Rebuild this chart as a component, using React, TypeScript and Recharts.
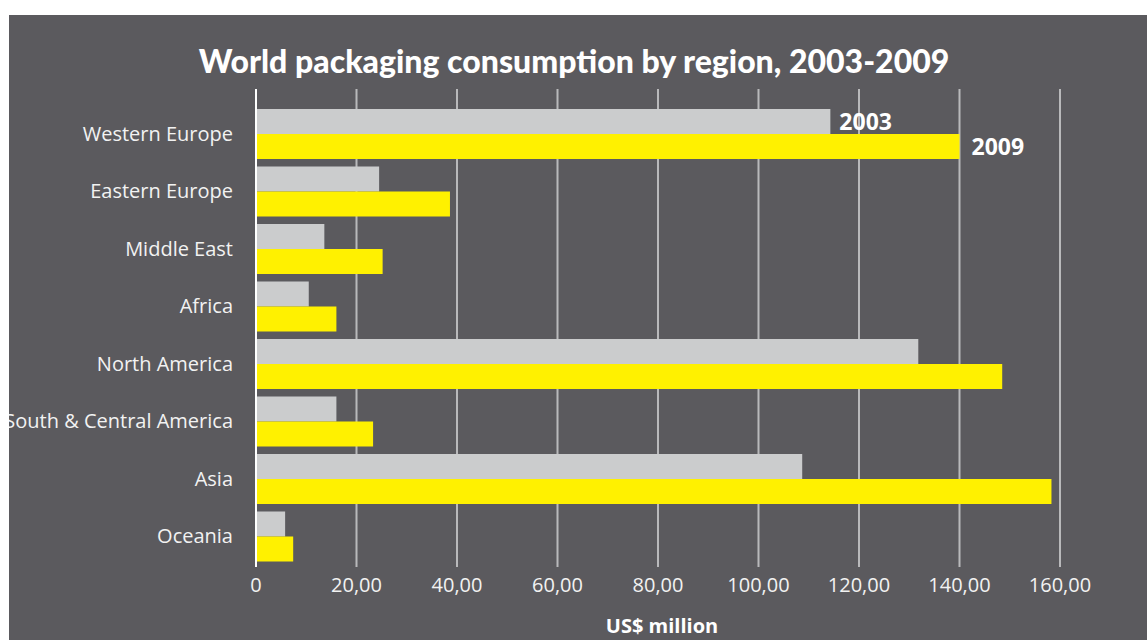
import React from 'react';
import { BarChart, Bar, XAxis, YAxis, CartesianGrid, LabelList } from 'recharts';

const regions = [
  'Western Europe',
  'Eastern Europe',
  'Middle East',
  'Africa',
  'North America',
  'South & Central America',
  'Asia',
  'Oceania',
];
const values2003 = [114.3, 24.5, 13.6, 10.5, 131.8, 16.0, 108.7, 5.8];
const values2009 = [140.0, 38.6, 25.2, 16.0, 148.5, 23.3, 158.3, 7.4];
const xTicks = [0, 20, 40, 60, 80, 100, 120, 140, 160];

const data = regions.map((r, i) => ({ region: r, y2003: values2003[i], y2009: values2009[i] }));

const BG = '#5b5a5e';
const FONT = '"Open Sans", "Noto Sans", sans-serif';

const fmtTick = (v: number) => (v === 0 ? '0' : v.toFixed(2).replace('.', ','));

// only the first (Western Europe) bar carries the year label
const yearLabel = (text: string, dx: number) => (props: any) => {
  const { x, y, width, height, index } = props;
  if (index !== 0) return null;
  return (
    <text
      x={x + width + dx}
      y={y + height / 2}
      dy="0.36em"
      fill="#ffffff"
      fontFamily={FONT}
      fontWeight={700}
      fontSize={23}
    >
      {text}
    </text>
  );
};

export default function App() {
  return (
    <div style={{ position: 'absolute', left: 0, top: 0, width: 1147, height: 640, background: '#fff', overflow: 'hidden' }}>
      <div style={{ position: 'absolute', left: 9, top: 15, width: 1138, height: 625, background: BG }}>
        <div
          style={{
            position: 'absolute',
            left: 0,
            width: 1138,
            top: 28,
            textAlign: 'center',
            paddingRight: 8,
            boxSizing: 'border-box',
            color: '#fff',
            fontFamily: 'Lato, sans-serif',
            fontWeight: 900,
            fontSize: 32,
            lineHeight: '36px',
          }}
        >
          World packaging consumption by region, 2003-2009
        </div>
        <BarChart
          width={1138}
          height={625}
          data={data}
          layout="vertical"
          margin={{ top: 74, right: 87, bottom: 43, left: 0 }}
          barGap={0}
          barSize={25}
        >
          <CartesianGrid horizontal={false} stroke="#b9b9bb" strokeWidth={2} />
          <XAxis
            type="number"
            domain={[0, 160]}
            ticks={xTicks}
            tickFormatter={fmtTick}
            axisLine={false}
            tickLine={false}
            height={30}
            tickSize={0}
            tickMargin={11}
            tick={{ fill: '#f2f2f2', fontSize: 20, fontFamily: FONT }}
            interval={0}
          />
          <YAxis
            type="category"
            dataKey="region"
            width={247}
            padding={{ top: 16, bottom: 2 }}
            axisLine={{ stroke: '#ffffff', strokeWidth: 2 }}
            tickLine={false}
            tickSize={0}
            tickMargin={23}
            tick={{ fill: '#f2f2f2', fontSize: 20, fontFamily: FONT }}
            interval={0}
          />
          <Bar dataKey="y2003" fill="#cbcccd" isAnimationActive={false}>
            <LabelList dataKey="y2003" content={yearLabel('2003', 9)} />
          </Bar>
          <Bar dataKey="y2009" fill="#fff100" isAnimationActive={false}>
            <LabelList dataKey="y2009" content={yearLabel('2009', 12)} />
          </Bar>
        </BarChart>
        <div
          style={{
            position: 'absolute',
            left: 553,
            width: 200,
            top: 598,
            textAlign: 'center',
            color: '#fff',
            fontFamily: FONT,
            fontWeight: 700,
            fontSize: 20,
            lineHeight: '26px',
          }}
        >
          US$ million
        </div>
      </div>
    </div>
  );
}
